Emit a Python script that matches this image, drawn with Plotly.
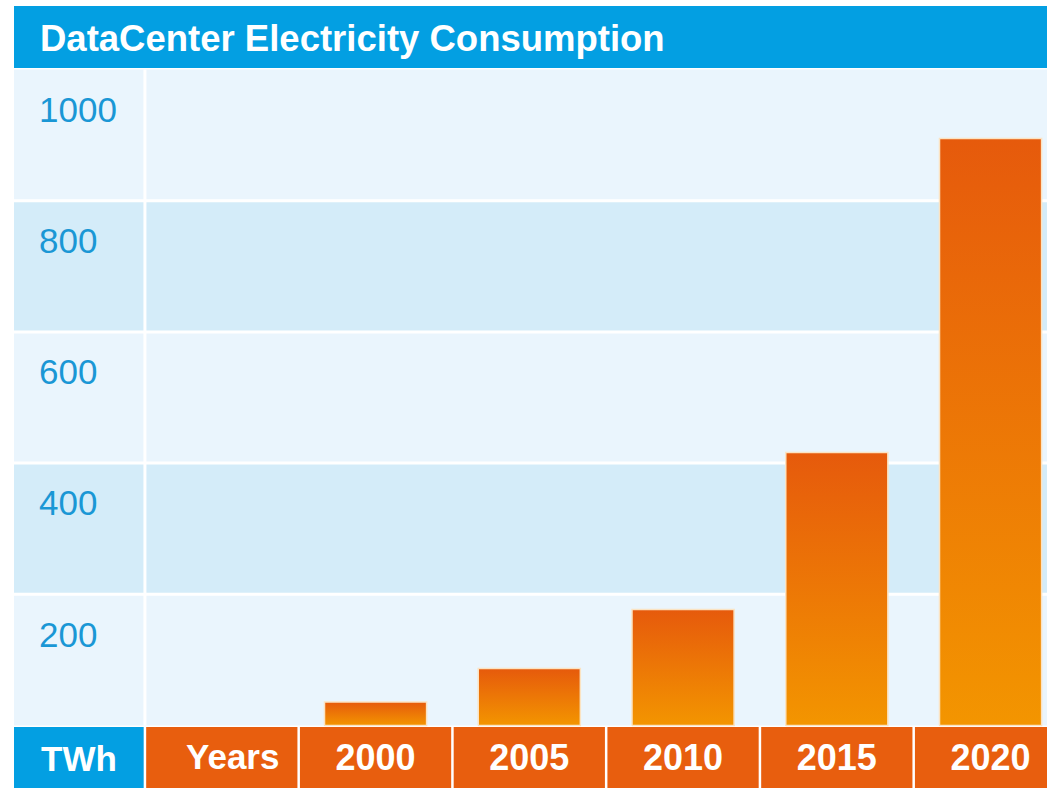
import plotly.graph_objects as go

# Data
years = ["2000", "2005", "2010", "2015", "2020"]
consumption_twh = [36, 87, 177, 416, 895]
y_tick_values = [200, 400, 600, 800, 1000]
y_tick_labels = ["200", "400", "600", "800", "1000"]
unit_label = "TWh"
axis_label = "Years"
title_text = "DataCenter Electricity Consumption"

# Canvas geometry (pixels) and mapping helpers
W, H = 1047, 788
X0_PX, COL_PX = 221.8, 153.75      # centre of column 0 and column pitch
Y0_PX, PX_PER_UNIT = 725.5, 0.656  # baseline and vertical scale


def xd(px):
    return (px - X0_PX) / COL_PX


def yd(px):
    return (Y0_PX - px) / PX_PER_UNIT


BLUE = "#039FE2"
ORANGE = "#E85E0E"
BAND_LIGHT = "#EAF5FD"
BAND_DARK = "#D4ECF9"
LABEL_BLUE = "#1A97D5"
FONT = "Liberation Sans, Arial, Helvetica, sans-serif"

fig = go.Figure()

# Bars with a vertical orange gradient
bar_half = 0.332
for i, (yr, v) in enumerate(zip(years, consumption_twh), start=1):
    fig.add_trace(go.Scatter(
        x=[i - bar_half, i + bar_half, i + bar_half, i - bar_half, i - bar_half],
        y=[0, 0, v, v, 0],
        mode="lines",
        fill="toself",
        fillgradient=dict(type="vertical",
                          colorscale=[[0, "#F39500"], [1, "#E65A0C"]]),
        line=dict(color="#FBE3C2", width=1.5),
        hoverinfo="text",
        text=f"{yr}: {v} TWh",
        showlegend=False,
    ))

shapes = []
# Title bar
shapes.append(dict(type="rect", xref="paper", yref="paper",
                   x0=14 / W, x1=1, y0=1 - 68 / H, y1=1 - 6 / H,
                   fillcolor=BLUE, line=dict(width=0), layer="below"))
# Alternating horizontal bands
x_left = xd(14)
x_right = xd(W) + 0.2
for k in range(5):
    shapes.append(dict(type="rect", xref="x", yref="y",
                       x0=x_left, x1=x_right, y0=200 * k, y1=200 * (k + 1),
                       fillcolor=BAND_LIGHT if k % 2 == 0 else BAND_DARK,
                       line=dict(width=0), layer="below"))
# White separators between bands
for v in y_tick_values[:-1]:
    shapes.append(dict(type="line", xref="x", yref="y",
                       x0=x_left, x1=x_right, y0=v, y1=v,
                       line=dict(color="white", width=3), layer="below"))
shapes.append(dict(type="line", xref="x", yref="y",
                   x0=-0.5, x1=-0.5, y0=0, y1=1000,
                   line=dict(color="white", width=3), layer="below"))
# Bottom row: unit cell and year cells
row_top, row_bot = yd(727), yd(H) - 5
shapes.append(dict(type="rect", xref="x", yref="y",
                   x0=x_left, x1=-0.5, y0=row_bot, y1=row_top,
                   fillcolor=BLUE, line=dict(width=0), layer="below"))
shapes.append(dict(type="rect", xref="x", yref="y",
                   x0=-0.5, x1=x_right, y0=row_bot, y1=row_top,
                   fillcolor=ORANGE, line=dict(width=0), layer="below"))
for c in range(-1, 5):
    shapes.append(dict(type="line", xref="x", yref="y",
                       x0=c + 0.5, x1=c + 0.5, y0=row_bot, y1=row_top,
                       line=dict(color="white", width=2.5), layer="below"))

annotations = [
    dict(text=unit_label, xref="x", yref="y", x=xd(79), y=yd(758),
         xanchor="center", yanchor="middle", showarrow=False,
         font=dict(family=FONT, size=35, color="white", weight="bold")),
    dict(text=axis_label, xref="x", yref="y", x=xd(281), y=yd(756),
         xanchor="right", yanchor="middle", showarrow=False,
         font=dict(family=FONT, size=35, color="white", weight="bold")),
]

fig.update_layout(
    width=W, height=H,
    margin=dict(l=0, r=0, t=0, b=0),
    paper_bgcolor="white",
    plot_bgcolor="white",
    shapes=shapes,
    annotations=annotations,
    title=dict(text=title_text, x=40 / W, xanchor="left",
               y=1 - 38 / H, yanchor="middle",
               font=dict(family=FONT, size=36.5, color="white", weight="bold")),
    xaxis=dict(range=[xd(0), xd(W)], showgrid=False, zeroline=False,
               showline=False, ticks="",
               tickvals=list(range(1, len(years) + 1)), ticktext=years,
               ticklabelposition="inside", ticklabelstandoff=8,
               tickfont=dict(family=FONT, size=36, color="white", weight="bold"),
               fixedrange=True),
    yaxis=dict(range=[yd(H), yd(0)], showgrid=False, zeroline=False,
               showline=False, ticks="",
               tickvals=y_tick_values, ticktext=y_tick_labels,
               ticklabelposition="inside", ticklabelstandoff=36,
               ticklabelshift=40,
               tickfont=dict(family=FONT, size=35, color=LABEL_BLUE),
               fixedrange=True),
)

fig.write_html("out.html")
